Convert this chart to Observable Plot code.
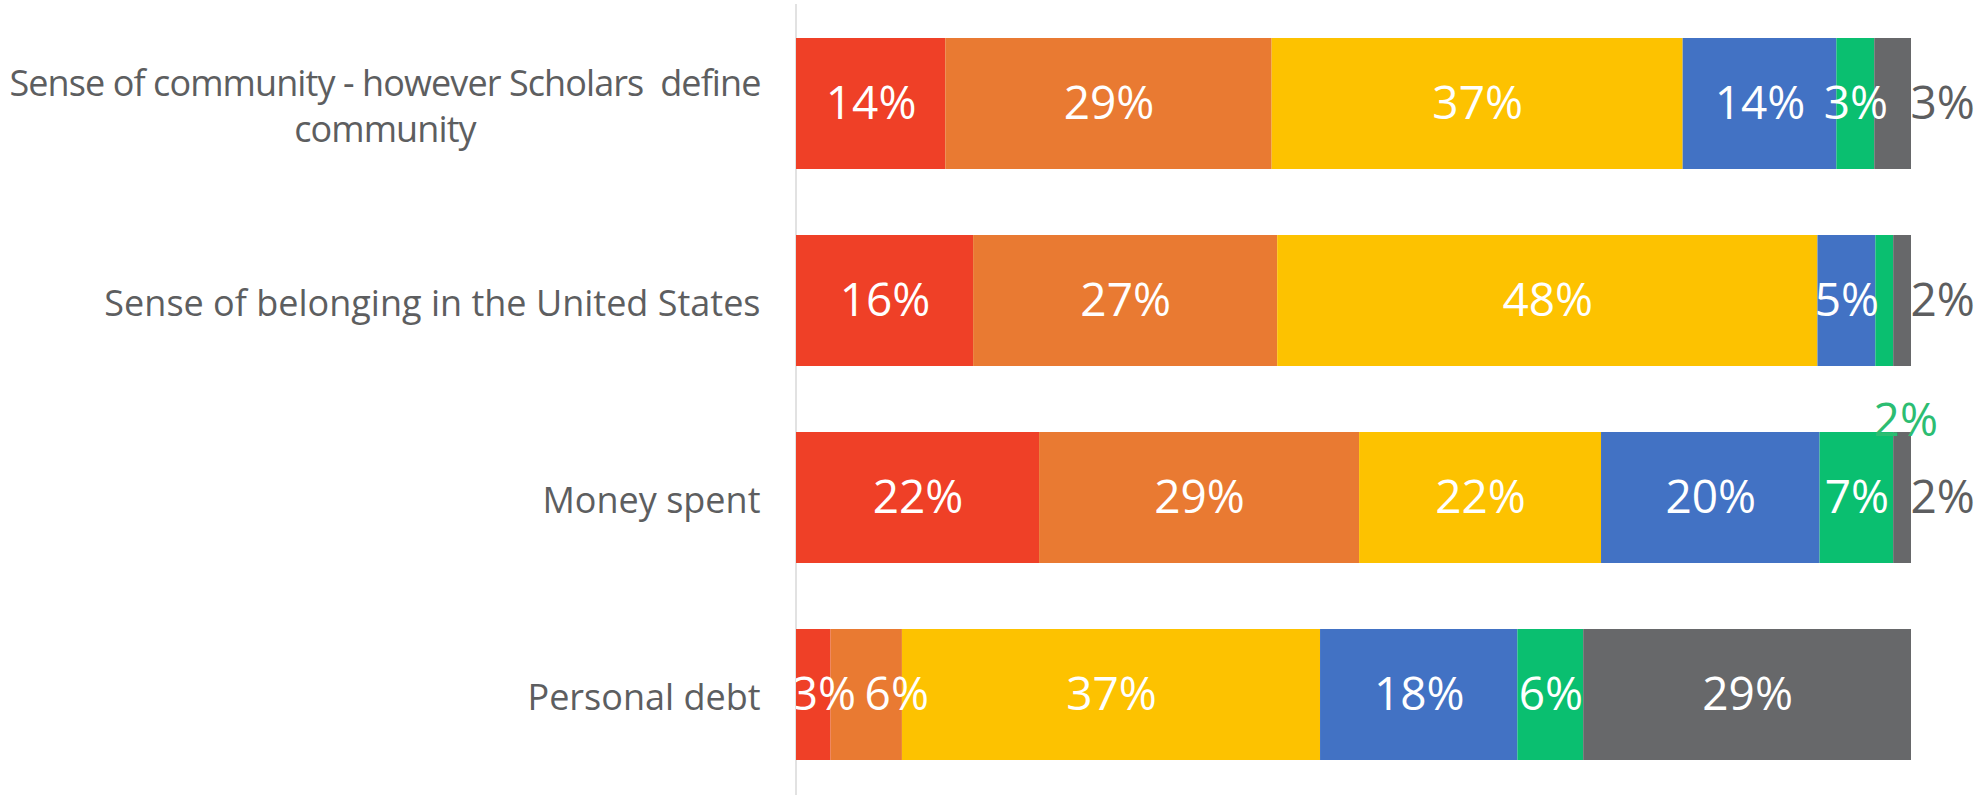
<!DOCTYPE html>
<html>
<head>
<meta charset="utf-8">
<script src="https://cdn.jsdelivr.net/npm/d3@7"></script>
<script src="https://cdn.jsdelivr.net/npm/@observablehq/plot@0.6"></script>
<style>
  html, body { margin: 0; padding: 0; background: #ffffff; }
  #chart svg { display: block; }
  .cat-labels text { white-space: pre; }
</style>
</head>
<body>
<div id="chart"></div>
<script>
// ---- Data ----
const categories = [
  "Sense of community - however Scholars  define\ncommunity",
  "Sense of belonging in the United States",
  "Money spent",
  "Personal debt"
];
const seriesNames = ["Series 1", "Series 2", "Series 3", "Series 4", "Series 5", "Series 6"];
// segment shares (% of each bar), measured from the bar widths
const series1Values = [13.4, 15.9, 21.8, 3.1];
const series2Values = [29.3, 27.3, 28.7, 6.4];
const series3Values = [36.9, 48.5, 21.7, 37.5];
const series4Values = [13.8, 5.2, 19.6, 17.7];
const series5Values = [3.4, 1.6, 6.6, 5.9];
const series6Values = [3.3, 1.6, 1.6, 29.4];
// data labels as printed on the chart
const series1Labels = ["14%", "16%", "22%", "3%"];
const series2Labels = ["29%", "27%", "29%", "6%"];
const series3Labels = ["37%", "48%", "22%", "37%"];
const series4Labels = ["14%", "5%", "20%", "18%"];
const series5Labels = ["3%", "2%", "7%", "6%"];
const series6Labels = ["3%", "2%", "2%", "29%"];

// ---- Styles ----
const colors = ["#EF4027", "#E97A32", "#FDC200", "#4272C4", "#0ABF70", "#67686A"];
const textGray = "#5d5e60";
const labelGreen = "#2cbd72";

const valueSets = [series1Values, series2Values, series3Values, series4Values, series5Values, series6Values];
const labelSets = [series1Labels, series2Labels, series3Labels, series4Labels, series5Labels, series6Labels];

// build table with stacked positions (normalized per bar)
const rows = [];
categories.forEach((cat, i) => {
  const total = d3.sum(valueSets, s => s[i]);
  let cum = 0;
  seriesNames.forEach((s, j) => {
    const v = valueSets[j][i];
    const x1 = cum / total, x2 = (cum + v) / total;
    cum += v;
    rows.push({category: cat, row: i, series: s, value: v, label: labelSets[j][i], x1, x2, mid: (x1 + x2) / 2});
  });
});

// label placement (style only)
const placement = d => {
  if (d.series === "Series 6" && d.row < 3) return "right";
  if (d.series === "Series 5" && d.row === 1) return "below";
  if (d.row === 3 && d.series === "Series 1") return "nudgeA";
  if (d.row === 3 && d.series === "Series 2") return "nudgeB";
  return "inside";
};

const fs = 46;
const common = {y: "category", fontSize: fs, fontFamily: "Open Sans"};

const chart = Plot.plot({
  width: 1980,
  height: 795,
  marginLeft: 796,
  marginRight: 69,
  marginTop: 4,
  marginBottom: 0,
  style: {fontFamily: "Open Sans", background: "#ffffff"},
  x: {domain: [0, 1], axis: null},
  y: {domain: categories, paddingInner: 0.333, paddingOuter: 0.1667, axis: null},
  color: {domain: seriesNames, range: colors},
  marks: [
    Plot.ruleX([0], {stroke: "#d9d9d9", strokeWidth: 1.5, dx: -0.5}),
    Plot.barX(rows, {x1: "x1", x2: "x2", y: "category", fill: {value: "series", scale: "color"}, inset: 0}),
    Plot.text(rows.filter(d => placement(d) === "inside"), {...common, x: "mid", text: "label", fill: "#ffffff", clip: true}),
    Plot.text(rows.filter(d => placement(d) === "nudgeA"), {...common, x: "mid", text: "label", fill: "#ffffff", dx: 10, clip: true}),
    Plot.text(rows.filter(d => placement(d) === "nudgeB"), {...common, x: "mid", text: "label", fill: "#ffffff", dx: 30, clip: true}),
    Plot.text(rows.filter(d => placement(d) === "right"), {...common, x: "x2", text: "label", fill: textGray, textAnchor: "start", dx: -1}),
    Plot.text(rows.filter(d => placement(d) === "below"), {...common, x: "mid", text: "label", fill: labelGreen, dx: 21, dy: 120}),
    Plot.text(categories, {
      y: d => d, frameAnchor: "left", text: d => d, textAnchor: "end", dx: -36,
      fontSize: 36, lineHeight: 1.27, fill: textGray, className: "cat-labels"
    })
  ]
});

document.getElementById("chart").appendChild(chart);

// fit the wrapped category label into the width it takes in the reference,
// and centre its lines inside their right-aligned block
const maxLabelWidth = 751;
d3.select(chart).selectAll(".cat-labels text").each(function() {
  const tspans = Array.from(this.querySelectorAll("tspan"));
  if (tspans.length < 2) return;
  let widths = tspans.map(t => t.getComputedTextLength());
  let maxW = d3.max(widths);
  if (maxW > maxLabelWidth) {
    const longest = tspans[widths.indexOf(maxW)].textContent.length;
    this.style.letterSpacing = ((maxLabelWidth - maxW) / longest).toFixed(2) + "px";
    widths = tspans.map(t => t.getComputedTextLength());
    maxW = d3.max(widths);
  }
  this.setAttribute("text-anchor", "middle");
  tspans.forEach(t => t.setAttribute("x", -maxW / 2));
});
</script>
</body>
</html>
